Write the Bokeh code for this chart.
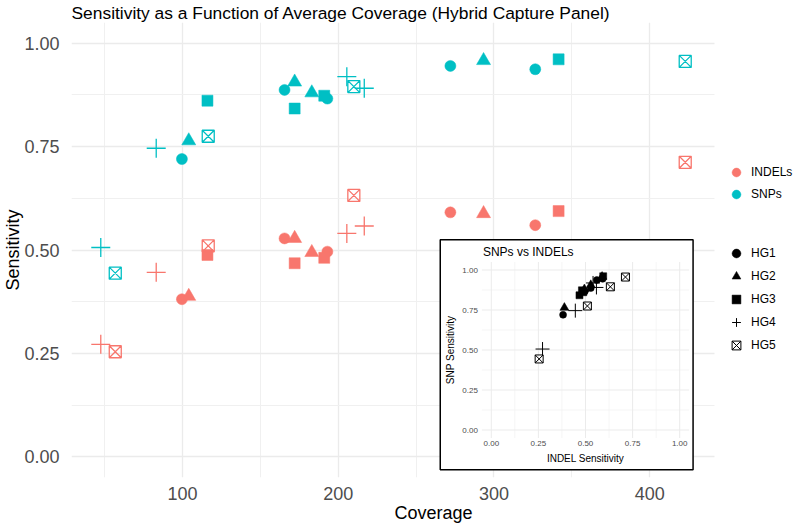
from bokeh.plotting import figure
from bokeh.models import Range1d, FixedTicker, Legend, LegendItem, BoxAnnotation
from bokeh.core.properties import value
from bokeh.embed import file_html
from bokeh.resources import INLINE

# ---------------- data ----------------
groups = ["HG1", "HG2", "HG3", "HG4", "HG5"]
sample_group = ["HG1"] * 5 + ["HG2"] * 4 + ["HG3"] * 4 + ["HG4"] * 4 + ["HG5"] * 4
coverage = [99.6, 165.5, 193.0, 272.0, 326.5,
            104.0, 172.0, 183.0, 293.3,
            116.0, 172.0, 191.0, 341.5,
            47.5, 83.1, 205.5, 216.7,
            56.8, 116.5, 210.0, 422.8]
snp_sens = [0.720, 0.887, 0.866, 0.945, 0.937,
            0.764, 0.906, 0.880, 0.958,
            0.861, 0.842, 0.873, 0.961,
            0.506, 0.746, 0.919, 0.891,
            0.444, 0.775, 0.895, 0.956]
indel_sens = [0.381, 0.528, 0.496, 0.591, 0.560,
              0.388, 0.528, 0.494, 0.588,
              0.488, 0.468, 0.481, 0.594,
              0.272, 0.446, 0.540, 0.558,
              0.254, 0.510, 0.632, 0.712]
series_names = ["INDELs", "SNPs"]

x_ticks = [100, 200, 300, 400]
x_minor = [50, 150, 250, 350]
y_ticks = [0.0, 0.25, 0.5, 0.75, 1.0]
y_tick_labels = ["0.00", "0.25", "0.50", "0.75", "1.00"]
y_minor = [0.125, 0.375, 0.625, 0.875]
inset_ticks = [0.0, 0.25, 0.5, 0.75, 1.0]
inset_tick_labels = ["0.00", "0.25", "0.50", "0.75", "1.00"]
inset_minor = [0.125, 0.375, 0.625, 0.875]

# ---------------- styles ----------------
COLORS = {"INDELs": "#F8766D", "SNPs": "#00BFC4"}
MAIN_MARK = {"HG1": ("circle", 11), "HG2": ("triangle", 14), "HG3": ("square", 11),
             "HG4": ("cross", 19), "HG5": ("square_x", 12)}
INSET_MARK = {"HG1": ("circle", 7), "HG2": ("triangle", 9), "HG3": ("square", 7),
              "HG4": ("cross", 14), "HG5": ("square_x", 8)}
OPEN = {"HG4", "HG5"}
FONT = "Liberation Sans"

# frame geometry (panel area 28.7..441.6 on x; the frame is extended to the
# right edge so the legends can live inside it)
X_LO, X_HI = 28.7, 441.6
PANEL_W = 643
BL, BT, BB = 60, 15, 42
FW, FH = 724, 455
x_end = X_LO + FW * (X_HI - X_LO) / PANEL_W

p = figure(frame_width=FW, frame_height=FH, output_backend="svg", toolbar_location=None,
           x_range=Range1d(X_LO, x_end), y_range=Range1d(-0.05, 1.05),
           min_border_left=BL, min_border_right=0, min_border_top=BT, min_border_bottom=BB,
           title="Sensitivity as a Function of Average Coverage (Hybrid Capture Panel)")
p.outline_line_color = None
p.background_fill_color = "white"
p.border_fill_color = "white"

p.title.text_font = FONT
p.title.text_font_size = "17.4px"
p.title.text_font_style = "normal"
p.title.text_color = "black"
p.title.standoff = 0
p.title.offset = 0

p.xaxis.ticker = FixedTicker(ticks=x_ticks, minor_ticks=x_minor)
p.yaxis.ticker = FixedTicker(ticks=y_ticks, minor_ticks=y_minor)
p.yaxis.major_label_overrides = dict(zip(y_ticks, y_tick_labels))
p.xaxis.axis_label = "Coverage"
p.yaxis.axis_label = "Sensitivity"
for ax in (p.xaxis, p.yaxis):
    ax.axis_line_color = None
    ax.major_tick_line_color = None
    ax.minor_tick_line_color = None
    ax.major_label_text_font = FONT
    ax.major_label_text_font_size = "18px"
    ax.major_label_text_color = "#4D4D4D"
    ax.axis_label_text_font = FONT
    ax.axis_label_text_font_size = "18px"
    ax.axis_label_text_font_style = "normal"
    ax.axis_label_text_color = "black"
p.xaxis.major_label_standoff = 3
p.xaxis.axis_label_standoff = 0
p.yaxis.major_label_standoff = 6
p.yaxis.axis_label_standoff = -2

for g in (p.xgrid, p.ygrid):
    g.grid_line_color = "#EBEBEB"
    g.grid_line_width = 1.3
    g.minor_grid_line_color = "#F0F0F0"
    g.minor_grid_line_width = 1.0

# hide the grid beyond the panel's right limit (legend area)
p.add_layout(BoxAnnotation(left=X_HI, fill_color="white", fill_alpha=1.0,
                           line_color=None, level="underlay"))


def draw_markers(fig, xs, ys, grp_list, color, marks, lw, **kw):
    out = {}
    for grp in groups:
        idx = [i for i, g in enumerate(grp_list) if g == grp]
        gx = [xs[i] for i in idx]
        gy = [ys[i] for i in idx]
        mk, sz = marks[grp]
        if grp in OPEN:
            out[grp] = fig.scatter(gx, gy, marker=mk, size=sz, fill_color=None,
                                   line_color=color, line_width=lw, **kw)
        else:
            out[grp] = fig.scatter(gx, gy, marker=mk, size=sz, fill_color=color,
                                   line_color=color, line_width=0.5, **kw)
    return out


# main points
r_indel = draw_markers(p, coverage, indel_sens, sample_group, COLORS["INDELs"], MAIN_MARK, 1.3)
r_snp = draw_markers(p, coverage, snp_sens, sample_group, COLORS["SNPs"], MAIN_MARK, 1.3)

# ---------------- inset (SNPs vs INDELs) via extra ranges ----------------
# inset unit: 188.4 px across, 160 px up; inset origin 419.8 px right of the
# frame's left edge and 407.5 px below the frame's top edge
IUX, IUY, IOX, IOY = 188.4, 160.0, 419.8, 407.5
p.extra_x_ranges = {"ix": Range1d(-IOX / IUX, (FW - IOX) / IUX)}
p.extra_y_ranges = {"iy": Range1d(-(FH - IOY) / IUY, IOY / IUY)}
IX = dict(x_range_name="ix", y_range_name="iy")
INSET_BOX = dict(left=-0.271, right=1.071, bottom=-0.248, top=1.189)
LO, HI = -0.05, 1.05

p.quad(fill_color="white", line_color="black", line_width=1.5, **INSET_BOX, **IX)
p.segment(x0=inset_minor, y0=[LO] * 4, x1=inset_minor, y1=[HI] * 4,
          line_color="#F2F2F2", line_width=0.8, **IX)
p.segment(x0=[LO] * 4, y0=inset_minor, x1=[HI] * 4, y1=inset_minor,
          line_color="#F2F2F2", line_width=0.8, **IX)
p.segment(x0=inset_ticks, y0=[LO] * 5, x1=inset_ticks, y1=[HI] * 5,
          line_color="#EBEBEB", line_width=1.0, **IX)
p.segment(x0=[LO] * 5, y0=inset_ticks, x1=[HI] * 5, y1=inset_ticks,
          line_color="#EBEBEB", line_width=1.0, **IX)

r_inset = draw_markers(p, indel_sens, snp_sens, sample_group, "black", INSET_MARK, 1.0, **IX)

p.text(x=[LO] * 5, y=inset_ticks, text=inset_tick_labels, x_offset=-4,
       text_align="right", text_baseline="middle", text_font=value(FONT),
       text_font_size="8px", text_color="#4D4D4D", **IX)
p.text(x=inset_ticks, y=[LO] * 5, text=inset_tick_labels, y_offset=3,
       text_align="center", text_baseline="top", text_font=value(FONT),
       text_font_size="8px", text_color="#4D4D4D", **IX)
p.text(x=[0.5], y=[LO], text=["INDEL Sensitivity"], y_offset=15,
       text_align="center", text_baseline="top", text_font=value(FONT),
       text_font_size="10px", text_color="black", **IX)
p.text(x=[LO], y=[0.5], text=["SNP Sensitivity"], x_offset=-31, angle=1.5708,
       text_align="center", text_baseline="middle", text_font=value(FONT),
       text_font_size="10px", text_color="black", **IX)
p.text(x=[LO], y=[HI], text=["SNPs vs INDELs"], x_offset=1, y_offset=-10,
       text_align="left", text_baseline="middle", text_font=value(FONT),
       text_font_size="12px", text_color="black", **IX)

# ---------------- legends ----------------
color_items = [LegendItem(label="INDELs", renderers=[r_indel["HG1"]]),
               LegendItem(label="SNPs", renderers=[r_snp["HG1"]])]
shape_items = [LegendItem(label=grp, renderers=[r_inset[grp]]) for grp in groups]

GH = 22
LEG_X = 665 - GH // 2
leg_common = dict(glyph_width=GH, glyph_height=GH, label_standoff=4, margin=0, padding=0,
                  border_line_color=None, background_fill_alpha=0,
                  label_text_font=FONT, label_text_font_size="12px",
                  label_text_color="black", label_height=GH)
top1 = 139
leg1 = Legend(items=color_items, spacing=0,
              location=(LEG_X, FH - top1 - 2 * GH), **leg_common)
top2 = 220
leg2 = Legend(items=shape_items, spacing=1,
              location=(LEG_X, FH - top2 - (5 * GH + 4)), **leg_common)
p.add_layout(leg1)
p.add_layout(leg2)

open("out.html", "w").write(file_html(p, INLINE))
